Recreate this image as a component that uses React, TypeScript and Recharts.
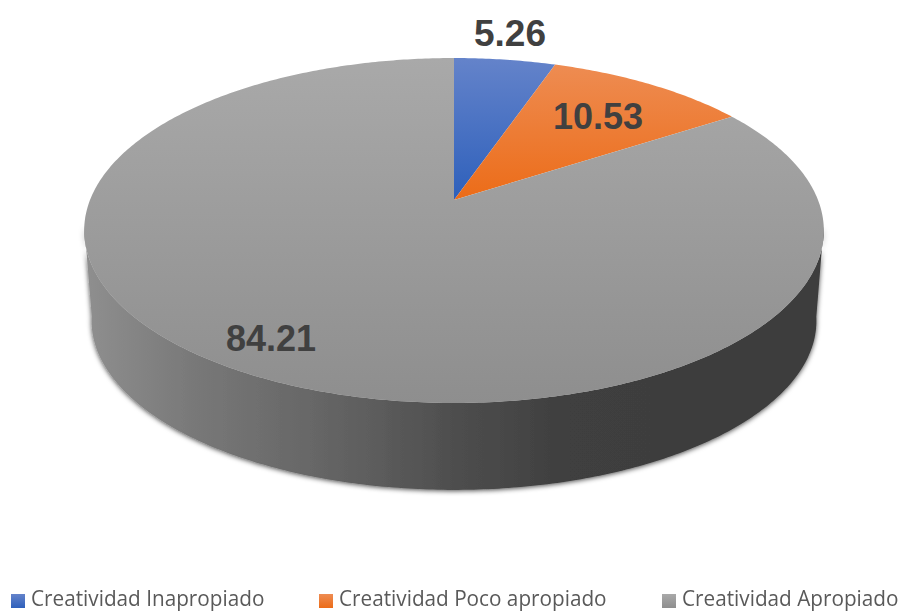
import React from 'react';
import { PieChart, Pie, Legend } from 'recharts';

const categories = ['Creatividad Inapropiado', 'Creatividad Poco apropiado', 'Creatividad Apropiado'];
const values = [5.26, 10.53, 84.21];
const gradientIds = ['sliceBlue', 'sliceOrange', 'sliceGray'];

const data = categories.map((name, i) => ({ name, value: values[i], fill: `url(#${gradientIds[i]})` }));

// tilt of the disc: how the flat pie circle gets projected on screen
const TILT = 0.459;
const PERSPECTIVE = 0.1768;
const DEPTH = 91;
const BOTTOM_SCALE = 0.98;

const labelOffsets = [
  { x: 56, y: -167 },
  { x: 144, y: -84 },
  { x: -183, y: 138 },
];
const labelSizes = [37, 36, 36];
const legendLeft = [11, 319, 662];

const project = (r: number, deg: number) => {
  const a = (deg * Math.PI) / 180;
  const u = Math.cos(a);
  const v = Math.sin(a);
  const d = 1 + PERSPECTIVE * v;
  return { x: (r * u) / d, y: (-r * TILT * v) / d };
};

const arcPoints = (r: number, start: number, end: number) => {
  const steps = Math.max(2, Math.ceil(Math.abs(end - start) * 1.5));
  const pts = [];
  for (let i = 0; i <= steps; i++) {
    pts.push(project(r, start + ((end - start) * i) / steps));
  }
  return pts;
};

const SliceShape = (props: any) => {
  const { cx, cy, outerRadius, startAngle, endAngle, fill, index } = props;
  const arc = arcPoints(outerRadius, startAngle, endAngle);
  const top = `M${cx},${cy} ` + arc.map((p) => `L${cx + p.x},${cy + p.y}`).join(' ') + ' Z';

  // the wall is only seen below the widest part of the disc
  const front = arc.filter((p) => p.y > outerRadius * 0.07);
  let wall = null;
  if (index === 2 && front.length > 1) {
    const bottom = [...front].reverse().map((p) => `L${cx + p.x * BOTTOM_SCALE},${cy + p.y * BOTTOM_SCALE + DEPTH}`);
    const d = front.map((p, i) => `${i ? 'L' : 'M'}${cx + p.x},${cy + p.y}`).join(' ') + ' ' + bottom.join(' ') + ' Z';
    wall = <path d={d} fill="url(#wallShade)" filter="url(#wallShadow)" />;
  }
  return (
    <g>
      {wall}
      <path d={top} fill={fill} />
    </g>
  );
};

const renderLabel = (props: any) => {
  const { cx, cy, index } = props;
  const off = labelOffsets[index];
  return (
    <text
      x={cx + off.x}
      y={cy + off.y}
      textAnchor="middle"
      dominantBaseline="central"
      fontFamily="Liberation Sans"
      fontWeight={700}
      fontSize={labelSizes[index]}
      fill="#404040"
    >
      {values[index].toFixed(2)}
    </text>
  );
};

const LegendRow = ({ payload }: any) => (
  <div style={{ position: 'relative', width: 903, height: 21 }}>
    {(payload || []).map((entry: any, i: number) => (
      <div key={entry.value} style={{ position: 'absolute', left: legendLeft[i], top: 0, display: 'flex', alignItems: 'center' }}>
        <svg width={14} height={14} style={{ marginRight: 6, marginTop: 5 }}>
          <rect width={14} height={14} fill={`url(#${gradientIds[i]})`} />
        </svg>
        <span
          style={{
            fontFamily: 'Open Sans',
            fontSize: 21,
            color: '#595959',
            whiteSpace: 'nowrap',
            lineHeight: '21px',
            display: 'inline-block',
            transform: 'scaleX(0.987)',
            transformOrigin: 'left center',
          }}
        >
          {entry.value}
        </span>
      </div>
    ))}
  </div>
);

export default function App() {
  return (
    <div style={{ position: 'absolute', left: 0, top: 0, width: 903, height: 611 }}>
      <PieChart width={903} height={611} margin={{ top: 0, right: 0, bottom: 0, left: 0 }}>
        <defs>
          <linearGradient id="sliceBlue" x1="0" y1="0" x2="0" y2="1">
            <stop offset="0%" stopColor="#6483ca" />
            <stop offset="100%" stopColor="#2e60bb" />
          </linearGradient>
          <linearGradient id="sliceOrange" x1="0" y1="0" x2="0" y2="1">
            <stop offset="0%" stopColor="#ee8c52" />
            <stop offset="100%" stopColor="#ec6c18" />
          </linearGradient>
          <linearGradient id="sliceGray" x1="0" y1="0" x2="0" y2="1">
            <stop offset="0%" stopColor="#a9a9a9" />
            <stop offset="100%" stopColor="#8e8e8e" />
          </linearGradient>
          <linearGradient id="wallShade" x1="0" y1="0" x2="1" y2="0">
            <stop offset="0%" stopColor="#8f8f8f" />
            <stop offset="15%" stopColor="#787878" />
            <stop offset="35%" stopColor="#626262" />
            <stop offset="50%" stopColor="#4e4e4e" />
            <stop offset="65%" stopColor="#3f3f3f" />
            <stop offset="100%" stopColor="#3c3c3c" />
          </linearGradient>
          <filter id="wallShadow" x="-5%" y="-10%" width="110%" height="125%">
            <feDropShadow dx="0" dy="1" stdDeviation="2.5" floodColor="#000" floodOpacity="0.7" />
          </filter>
        </defs>
        <Pie
          data={data}
          dataKey="value"
          nameKey="name"
          cx={454}
          cy={200}
          outerRadius={364}
          startAngle={90}
          endAngle={-270}
          stroke="none"
          shape={SliceShape}
          label={renderLabel}
          labelLine={false}
          isAnimationActive={false}
        />
        <Legend
          content={<LegendRow />}
          itemSorter={null}
          wrapperStyle={{ position: 'absolute', left: 0, top: 588, width: 903 }}
        />
      </PieChart>
    </div>
  );
}
